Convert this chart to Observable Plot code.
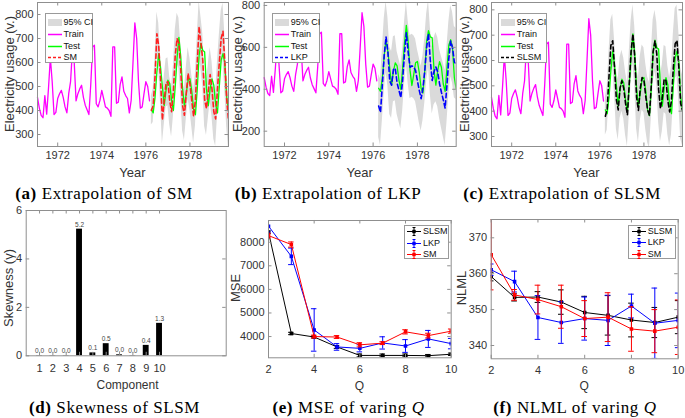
<!DOCTYPE html>
<html>
<head>
<meta charset="utf-8">
<script src="https://cdn.jsdelivr.net/npm/d3@7"></script>
<script src="https://cdn.jsdelivr.net/npm/@observablehq/plot@0.6"></script>
<style>
html,body{margin:0;padding:0;background:#fff;}
#root{position:relative;width:685px;height:418px;overflow:hidden;font-family:"Liberation Sans",Arial,sans-serif;color:#262626;}
.lab{position:absolute;white-space:nowrap;font-size:13px;line-height:1;transform:translate(-50%,-50%);color:#333;}
.ylab{transform:translate(-50%,-50%) rotate(-90deg);}
.small{font-size:12px;}
.cap{position:absolute;white-space:nowrap;font-family:"Liberation Serif","Times New Roman",serif;font-size:17px;letter-spacing:0.6px;line-height:1;transform:translate(-50%,-50%);color:#000;}
.leg{position:absolute;background:#fff;border:1px solid #9a9a9a;box-sizing:border-box;font-size:9px;line-height:1;color:#111;}
.leg .row{position:absolute;left:0;height:10px;display:flex;align-items:center;white-space:nowrap;}
.leg .row svg{display:block;}
</style>
</head>
<body>
<div id="root"></div>
<script>
// ---------------- data ----------------
const trainStart = 1971 + 1/12;           // first month of training data
const trainVals = [455,410,380,370,462,385,495,620,520,383,392,450,470,484,455,415,390,470,520,650,
  600,440,470,490,505,455,422,403,383,508,665,672,428,415,442,484,450,415,410,400,
  376,665,665,430,435,508,540,480,462,450,390,442,600,765,700,520,410,415,470,520,500,440];
const testVals = [405,390,455,560,637,580,500,420,485,526,512,443,400,500,620,705,625,490,418,470,
  526,533,480,405,382,490,630,680,650,645,490,420,490,532,505,425,390,500,610,637,596,457,401];
const smPred = [400,420,540,720,670,530,360,440,515,520,440,395,480,630,700,680,570,420,380,470,
  555,510,440,375,445,600,750,680,610,445,408,480,550,490,395,365,490,600,700,730,600,450,360];
const smHW = [60,70,80,90,95,100,100,100,100,100,100,105,105,105,105,105,105,105,105,108,
  108,108,108,110,110,110,110,110,110,112,112,112,112,115,115,115,115,115,115,118,118,118,118];
const lkpPred = [320,290,420,560,650,580,440,420,495,500,430,395,360,445,570,670,575,505,512,506,
  490,440,395,355,405,490,600,665,535,442,485,506,482,426,386,350,310,420,545,630,600,530,520];
const lkpHW = [150,160,170,175,170,165,160,160,155,155,150,150,150,150,150,150,150,150,150,150,
  150,150,155,155,155,155,160,160,160,160,160,165,165,165,170,175,180,180,175,170,170,170,170];
const slsmPred = [380,410,540,660,678,572,445,405,492,520,490,430,385,508,635,705,615,455,403,490,
  533,522,457,405,383,500,635,678,626,485,410,452,527,521,443,397,442,570,666,679,574,430,403];
const slsmHW = [75,85,95,100,105,110,115,120,120,120,120,125,125,125,120,115,120,125,128,128,
  128,128,130,130,130,130,125,120,125,130,132,132,132,133,135,135,135,135,138,140,140,140,140];
const yearTicks = [1972, 1974, 1976, 1978];
const yTicksA = [300, 400, 500, 600, 700, 800];
const yTicksB = [200, 400, 600, 800];
const yTicksC = [300, 400, 500, 600, 700, 800];

const components = [1,2,3,4,5,6,7,8,9,10];
const skewness = [0.01,0.01,0.01,5.23,0.12,0.50,0.04,0.01,0.43,1.34];
const skewTicks = [0, 2, 4, 6];

const qValues = [2,3,4,5,6,7,8,9,10];
const qTicks = [2,4,6,8,10];
const mseSLSM = [8420,4130,3980,3560,3200,3200,3200,3190,3250];
const mseSLSMErr = [60,50,40,60,60,60,60,50,50];
const mseLKP = [8680,7400,4280,3560,3500,3730,3600,3900,3700];
const mseLKPErr = [250,350,900,140,150,260,270,360,220];
const mseSM = [8280,7900,4000,3980,3650,3720,4200,4040,4230];
const mseSMErr = [100,110,60,60,90,60,90,100,90];
const mseTicks = [4000,5000,6000,7000,8000];

const nlmlSLSM = [359.2,353.4,353.5,352.1,349.2,348.4,347.1,346.4,347.9];
const nlmlSLSMErr = [1.2,1.0,1.5,3.4,4.5,5.5,4.7,4.2,4.6];
const nlmlLKP = [361.1,357.8,347.8,346.4,347.5,347.0,351.0,346.2,347.0];
const nlmlLKPErr = [1.6,2.9,6.1,5.8,6.0,7.0,3.3,9.8,7.6];
const nlmlSM = [365.3,354.1,352.8,350.8,347.5,347.9,344.6,344.0,345.1];
const nlmlSMErr = [9.8,1.5,4.0,6.0,5.0,6.8,6.2,6.0,7.6];
const nlmlTicks = [340,350,360,370];

// ---------------- helpers ----------------
const root = document.getElementById("root");
const AX = "#8f8f8f";
const FONT = "'Liberation Sans', Arial, sans-serif";
const STYLE = {fontFamily: FONT, fontSize: "11px", color: "#333", background: "transparent", overflow: "visible"};

function put(el, left, top) {
  el.style.position = "absolute";
  el.style.left = left + "px";
  el.style.top = top + "px";
  root.appendChild(el);
}
function label(text, x, y, cls, html) {
  const d = document.createElement("div");
  d.className = cls;
  if (html) d.innerHTML = text; else d.textContent = text;
  d.style.left = x + "px"; d.style.top = y + "px";
  root.appendChild(d);
}
function boxMarks(xd, yd, xt, yt, iw, ih) {
  const ky = (yd[1] - yd[0]) * 3.5 / ih, kx = (xd[1] - xd[0]) * 3.5 / iw;
  return [
    Plot.ruleX(xt, {x: d => d, y1: yd[0], y2: yd[0] + ky, stroke: AX}),
    Plot.ruleX(xt, {x: d => d, y1: yd[1], y2: yd[1] - ky, stroke: AX}),
    Plot.ruleY(yt, {y: d => d, x1: xd[0], x2: xd[0] + kx, stroke: AX}),
    Plot.ruleY(yt, {y: d => d, x1: xd[1], x2: xd[1] - kx, stroke: AX}),
    Plot.frame({stroke: AX})
  ];
}
function swatch(item) {
  const ns = "http://www.w3.org/2000/svg";
  let s = `<svg xmlns="${ns}" width="14" height="9" viewBox="0 0 14 9">`;
  if (item.type === "patch") s += `<rect x="0" y="1" width="14" height="7" fill="#dadada"/>`;
  else if (item.type === "line") s += `<line x1="0" y1="4.5" x2="14" y2="4.5" stroke="${item.color}" stroke-width="1.5" ${item.dash ? `stroke-dasharray="${item.dash}"` : ""}/>`;
  else s += `<line x1="0" y1="4.5" x2="14" y2="4.5" stroke="${item.color}" stroke-width="1"/>
    <line x1="7" y1="0.5" x2="7" y2="8.5" stroke="${item.color}" stroke-width="1"/>
    <line x1="5.5" y1="0.5" x2="8.5" y2="0.5" stroke="${item.color}"/><line x1="5.5" y1="8.5" x2="8.5" y2="8.5" stroke="${item.color}"/>
    <rect x="5.3" y="2.8" width="3.4" height="3.4" fill="${item.color}"/>`;
  return s + "</svg>";
}
function legend(left, top, w, h, items, rows, swX, gap) {
  const d = document.createElement("div");
  d.className = "leg";
  d.style.left = left + "px"; d.style.top = top + "px";
  d.style.width = w + "px"; d.style.height = h + "px";
  items.forEach((it, i) => {
    const r = document.createElement("div");
    r.className = "row";
    r.style.top = (rows[i] - 5) + "px";
    r.style.left = swX + "px";
    r.innerHTML = swatch(it) + `<span style="margin-left:${gap}px">${it.label}</span>`;
    d.appendChild(r);
  });
  root.appendChild(d);
}

// ---------------- time-series panels ----------------
const xDomain = [trainStart, trainStart + (trainVals.length + testVals.length - 1) / 12];
const testStart = trainStart + trainVals.length / 12;
const trainRows = trainVals.map((v, i) => ({t: trainStart + i / 12, v}));
const testRows = testVals.map((v, j) => ({t: testStart + j / 12, v}));

function timePanel(svgLeft, areaL, areaR, yDomain, yTicks, pred, hw, color) {
  const mL = areaL - svgLeft, W = areaR - svgLeft + 4;
  const predRows = pred.map((v, j) => ({t: testStart + j / 12, v}));
  const band = pred.map((v, j) => ({t: testStart + j / 12, lo: v - hw[j], hi: v + hw[j]}));
  const plot = Plot.plot({
    width: W, height: 160, marginLeft: mL, marginRight: 4, marginTop: 2, marginBottom: 14,
    style: STYLE,
    x: {domain: xDomain, label: null},
    y: {domain: yDomain, label: null},
    marks: [
      Plot.areaY(band, {x: "t", y1: "lo", y2: "hi", fill: "#dadada", clip: true}),
      Plot.line(trainRows, {x: "t", y: "v", stroke: "#ff00ff", strokeWidth: 1.3}),
      Plot.line(testRows, {x: "t", y: "v", stroke: "#00ff00", strokeWidth: 1.3, clip: true}),
      Plot.line(predRows, {x: "t", y: "v", stroke: color, strokeWidth: 1.6, strokeDasharray: "4.5,3", clip: true}),
      ...boxMarks(xDomain, yDomain, yearTicks, yTicks, areaR - areaL, 144),
      Plot.axisX(yearTicks, {tickSize: 0, tickPadding: 5, tickFormat: "d", label: null}),
      Plot.axisY(yTicks, {tickSize: 0, tickPadding: 4, tickFormat: "d", label: null})
    ]
  });
  put(plot, svgLeft, 0);
}

timePanel(0, 37, 228, [250, 850], yTicksA, smPred, smHW, "#ff2020");
timePanel(228, 263.7, 455.7, [127, 814], yTicksB, lkpPred, lkpHW, "#0000ff");
timePanel(455, 491, 682, [260.5, 829], yTicksC, slsmPred, slsmHW, "#000000");

const legTS = (name, color, dash) => [
  {type: "patch", label: "95% CI"},
  {type: "line", color: "#ff00ff", label: "Train"},
  {type: "line", color: "#00ff00", label: "Test"},
  {type: "line", color, dash, label: name}
];
const tsRows = [9.2, 20.8, 32.5, 44.2];
legend(45, 12.5, 47.5, 50, legTS("SM", "#ff2020", "3,2"), tsRows, 1.5, 2);
legend(272.3, 12.5, 48, 50, legTS("LKP", "#0000ff", "3,2"), tsRows, 1.5, 2);
legend(498.3, 12.5, 48.5, 50, legTS("SLSM", "#000", "3,2"), tsRows, 1.5, 2);

label("Electricity usage (v.)", 9, 74, "lab ylab");
label("Electricity usage (v.)", 236.5, 74, "lab ylab");
label("Electricity usage (v.)", 463.5, 74, "lab ylab");
label("Year", 132.5, 171.5, "lab");
label("Year", 359.7, 171.5, "lab");
label("Year", 586.5, 171.5, "lab");
label("<b>(a)</b> Extrapolation of SM", 104, 193, "cap", true);
label("<b>(b)</b> Extrapolation of LKP", 328, 193, "cap", true);
label("<b>(c)</b> Extrapolation of SLSM", 562, 193, "cap", true);

// ---------------- skewness panel ----------------
{
  const rows = components.map((c, i) => ({c, v: skewness[i]}));
  const xd = [0, 15], yd = [0, 6];
  const plot = Plot.plot({
    width: 232, height: 175, marginLeft: 25.7, marginRight: 6.3, marginTop: 10, marginBottom: 19.7,
    style: STYLE,
    x: {domain: xd, label: null},
    y: {domain: yd, label: null},
    marks: [
      Plot.rect(rows, {x1: d => d.c - 0.22, x2: d => d.c + 0.22, y1: 0, y2: "v", fill: "#000"}),
      Plot.text(rows, {x: "c", y: "v", text: d => d.v.toFixed(1), dy: -4.5, fontSize: 6.5, fill: "#444"}),
      ...boxMarks(xd, yd, components, skewTicks, 200, 145.3),
      Plot.axisX(components, {tickSize: 0, tickPadding: 8, label: null}),
      Plot.axisY(skewTicks, {tickSize: 0, tickPadding: 4, label: null})
    ]
  });
  put(plot, 0, 200);
  label("Skewness (γ)", 7.5, 287.5, "lab ylab");
  label("Component", 127.5, 385, "lab small");
  label("<b>(d)</b> Skewness of SLSM", 114.5, 407, "cap", true);
}

// ---------------- error-bar panels ----------------
function errPanel(svgLeft, areaL, areaR, areaT, areaB, yDomain, yTicks, series) {
  const xd = [2, 10], cap = 0.12;
  const marks = [];
  for (const s of series) {
    const rows = qValues.map((q, i) => ({q, m: s.m[i], e: s.e[i]}));
    marks.push(
      Plot.line(rows, {x: "q", y: "m", stroke: s.color, strokeWidth: 1, clip: true}),
      Plot.ruleX(rows, {x: "q", y1: d => d.m - d.e, y2: d => d.m + d.e, stroke: s.color, clip: true}),
      Plot.ruleY(rows, {y: d => d.m - d.e, x1: d => d.q - cap, x2: d => d.q + cap, stroke: s.color, clip: true}),
      Plot.ruleY(rows, {y: d => d.m + d.e, x1: d => d.q - cap, x2: d => d.q + cap, stroke: s.color, clip: true}),
      Plot.dot(rows, {x: "q", y: "m", symbol: "square", r: 2, fill: s.color, clip: true})
    );
  }
  const plot = Plot.plot({
    width: areaR - svgLeft + 4, height: 175,
    marginLeft: areaL - svgLeft, marginRight: 4, marginTop: areaT - 205, marginBottom: 380 - areaB,
    style: STYLE,
    x: {domain: xd, label: null},
    y: {domain: yDomain, label: null},
    marks: [
      ...marks,
      ...boxMarks(xd, yDomain, qTicks, yTicks, areaR - areaL, areaB - areaT),
      Plot.axisX(qTicks, {tickSize: 0, tickPadding: 7.5, label: null}),
      Plot.axisY(yTicks, {tickSize: 0, tickPadding: 4, tickFormat: "d", label: null})
    ]
  });
  put(plot, svgLeft, 205);
}
errPanel(228, 268, 450.7, 220, 357.3, [3100, 8920], mseTicks, [
  {m: mseSLSM, e: mseSLSMErr, color: "#000"},
  {m: mseLKP, e: mseLKPErr, color: "#0000ff"},
  {m: mseSM, e: mseSMErr, color: "#ff0000"}
]);
errPanel(455, 490.7, 677.7, 219, 358.3, [336.3, 375.1], nlmlTicks, [
  {m: nlmlSLSM, e: nlmlSLSMErr, color: "#000"},
  {m: nlmlLKP, e: nlmlLKPErr, color: "#0000ff"},
  {m: nlmlSM, e: nlmlSMErr, color: "#ff0000"}
]);
const legErr = [
  {type: "err", color: "#000", label: "SLSM"},
  {type: "err", color: "#0000ff", label: "LKP"},
  {type: "err", color: "#ff0000", label: "SM"}
];
legend(403.5, 225, 45.5, 34, legErr, [5.5, 17, 28.5], 2.5, 2);
legend(628.3, 224.5, 47.5, 34.5, legErr, [5.5, 17, 28.5], 2.5, 2);

label("MSE", 234.7, 288, "lab ylab");
label("NLML", 460.7, 288, "lab ylab");
label("Q", 359.3, 385.5, "lab small");
label("Q", 584.2, 385.5, "lab small");
label("<b>(e)</b> MSE of varing <i>Q</i>", 348.5, 406.5, "cap", true);
label("<b>(f)</b> NLML of varing <i>Q</i>", 575, 406.5, "cap", true);
</script>
</body>
</html>
